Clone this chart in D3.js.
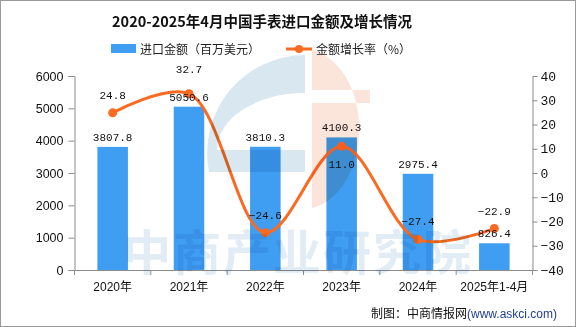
<!DOCTYPE html>
<html><head><meta charset="utf-8">
<script src="https://cdn.jsdelivr.net/npm/d3@7/dist/d3.min.js"></script>
<style>
html,body{margin:0;padding:0;background:#fff;}
svg{display:block;}
</style></head>
<body>
<script>
const categories = ["2020年","2021年","2022年","2023年","2024年","2025年1-4月"];
const importValues = [3807.8, 5050.6, 3810.3, 4100.3, 2975.4, 826.4];
const growthRates = [24.8, 32.7, -24.6, 11.0, -27.4, -22.9];
const leftTicks = [0,1000,2000,3000,4000,5000,6000];
const rightTicks = [-40,-30,-20,-10,0,10,20,30,40];

const W = 576, H = 327;
const M = {left:74.5, right:532.5, top:76, bottom:270};
const barColor = "#3f9df2", lineColor = "#fa6a21";

const svg = d3.select("body").append("svg").attr("width",W).attr("height",H);
svg.append("rect").attr("x",0.5).attr("y",0.5).attr("width",W-1).attr("height",H-1)
  .attr("fill","#fff").attr("stroke","#9a9a9a");

const x = d3.scaleBand().domain(categories).range([M.left,M.right]).paddingInner(0.6).paddingOuter(0.3);
const xb = d3.scaleBand().domain(categories).range([M.left,M.right]);
const yL = d3.scaleLinear().domain([0,6000]).range([M.bottom,M.top]);
const yR = d3.scaleLinear().domain([-40,40]).range([M.bottom,M.top]);

// title
svg.append("text").attr("x",262).attr("y",27).attr("text-anchor","middle")
  .attr("font-family","'Noto Sans CJK SC'").attr("font-weight","bold").attr("font-size",14.5)
  .attr("fill","#111").text("2020-2025年4月中国手表进口金额及增长情况");

// legend
const lg = svg.append("g").attr("font-family","'Noto Sans CJK SC'").attr("font-size",12).attr("fill","#222");
lg.append("rect").attr("x",111).attr("y",44).attr("width",25).attr("height",9).attr("fill",barColor);
lg.append("text").attr("x",140).attr("y",53.5).text("进口金额（百万美元）");
lg.append("line").attr("x1",286).attr("x2",312).attr("y1",49).attr("y2",49).attr("stroke",lineColor).attr("stroke-width",3);
lg.append("circle").attr("cx",299).attr("cy",49).attr("r",4).attr("fill",lineColor);
lg.append("text").attr("x",316).attr("y",53.5).text("金额增长率（%）");

// bars
svg.append("g").selectAll("rect").data(importValues).join("rect")
  .attr("x",(d,i)=>x(categories[i])).attr("width",x.bandwidth())
  .attr("y",d=>yL(d)).attr("height",d=>yL(0)-yL(d)).attr("fill",barColor);

// axes
const axisColor = "#8c8c8c";
const gL = svg.append("g").attr("transform",`translate(${M.left},0)`)
  .call(d3.axisLeft(yL).tickValues(leftTicks).tickSize(6).tickPadding(5).tickFormat(d3.format("d")));
const gR = svg.append("g").attr("transform",`translate(${M.right},0)`)
  .call(d3.axisRight(yR).tickValues(rightTicks).tickSize(5).tickPadding(3)
    .tickFormat(d=> d<0 ? "−"+Math.abs(d) : String(d)));
const gB = svg.append("g").attr("transform",`translate(0,${M.bottom})`)
  .call(d3.axisBottom(xb).tickSize(5).tickPadding(7));
[gL,gR,gB].forEach(g=>{
  g.select(".domain").attr("stroke",axisColor);
  g.selectAll(".tick line").attr("stroke",axisColor);
  g.selectAll("text").attr("fill","#111");
});
gL.selectAll("text").attr("font-family","'Liberation Sans'").attr("font-size",12.5);
gR.selectAll("text").attr("font-family","'Liberation Mono'").attr("font-size",13);
gB.selectAll("text").attr("font-family","'Liberation Sans','Noto Sans CJK SC'").attr("font-size",12);
// bottom ticks at band boundaries
gB.selectAll(".tick line").attr("transform",`translate(${-xb.bandwidth()/2},0)`);
gB.append("line").attr("x1",M.right).attr("x2",M.right).attr("y1",0).attr("y2",5).attr("stroke",axisColor);
gB.select(".domain").attr("d",`M${M.left},0.5H${M.right}`);

// line
const cx = i => x(categories[i]) + x.bandwidth()/2;
const line = d3.line().x((d,i)=>cx(i)).y(d=>yR(d)).curve(d3.curveCatmullRom.alpha(0.5));
svg.append("path").datum(growthRates).attr("d",line).attr("fill","none")
  .attr("stroke",lineColor).attr("stroke-width",3);
svg.append("g").selectAll("circle").data(growthRates).join("circle")
  .attr("cx",(d,i)=>cx(i)).attr("cy",d=>yR(d)).attr("r",4.5).attr("fill",lineColor);

// labels
const labFont = "'Liberation Mono'";
svg.append("g").selectAll("text").data(importValues).join("text")
  .attr("x",(d,i)=>cx(i)).attr("y",d=>yL(d)-6).attr("text-anchor","middle")
  .attr("font-family",labFont).attr("font-size",11).attr("fill","#111").text(d=>d.toFixed(1));
svg.append("g").selectAll("text").data(growthRates).join("text")
  .attr("x",(d,i)=>cx(i))
  .attr("y",(d,i)=>{
    const py = yR(d);
    if (i===3) return py+22;
    if (i===1) return py-21;
    return py-14;
  })
  .attr("text-anchor","middle").attr("font-family",labFont).attr("font-size",11).attr("fill","#111")
  .text(d=> (d<0?"−":"")+Math.abs(d).toFixed(1));

// watermark (on top, multiply)
const wm = svg.append("g").style("mix-blend-mode","multiply").attr("opacity",0.85);
wm.append("path").attr("fill","#d3e3ee").attr("fill-rule","evenodd")
  .attr("d","M305,55 A98,98 0 0 0 209,172 L305,172 L305,150 L217,150 A88,57 0 0 1 305,93 Z");
wm.append("path").attr("fill","#fbe1d5")
  .attr("d","M312,50 A56,80 0 0 1 312,208 Z M312,90 L370,90 L370,103 L312,103 Z")
  .attr("fill-rule","evenodd");
wm.append("text").attr("x",298).attr("y",270).attr("text-anchor","middle")
  .attr("font-family","'Noto Sans CJK SC'").attr("font-weight","bold").attr("font-size",48)
  .attr("fill","#dce9f3").attr("letter-spacing",2).text("中商产业研究院");

// footer
const ft = svg.append("text").attr("x",557).attr("y",318).attr("text-anchor","end")
  .attr("font-family","'Noto Sans CJK SC'").attr("font-size",12).attr("fill","#111");
ft.append("tspan").text("制图：中商情报网");
ft.append("tspan").attr("fill","#1f3f8f").attr("font-family","'Liberation Sans'").text("(www.askci.com)");
</script>
</body></html>
